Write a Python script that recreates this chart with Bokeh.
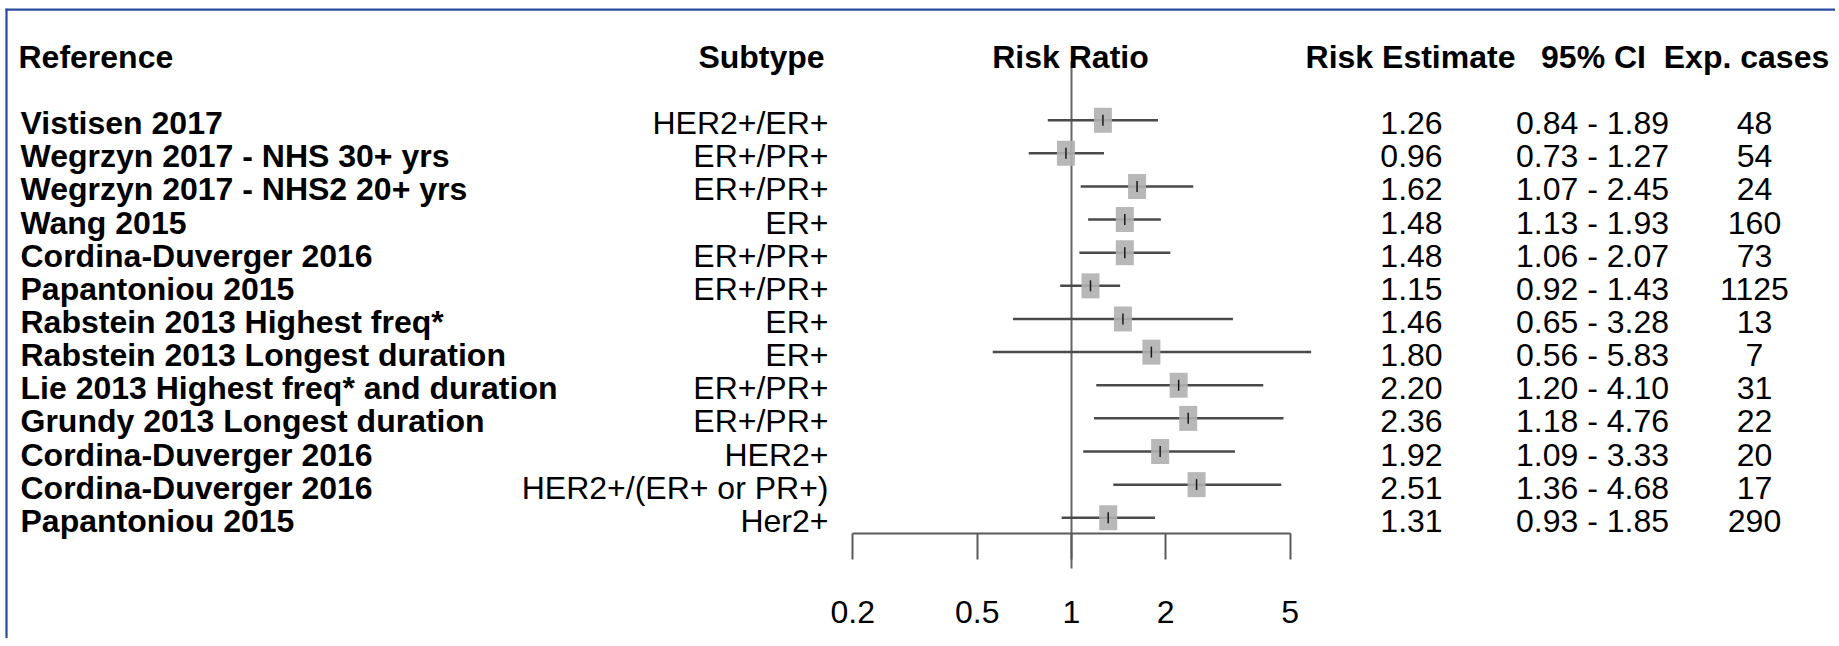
import math
from bokeh.plotting import figure
from bokeh.models import Range1d, FixedTicker, ColumnDataSource
from bokeh.core.properties import value
from bokeh.embed import file_html
from bokeh.resources import INLINE

# ---------------- data ----------------
references = [
    "Vistisen 2017",
    "Wegrzyn 2017 - NHS 30+ yrs",
    "Wegrzyn 2017 - NHS2 20+ yrs",
    "Wang 2015",
    "Cordina-Duverger 2016",
    "Papantoniou 2015",
    "Rabstein 2013 Highest freq*",
    "Rabstein 2013 Longest duration",
    "Lie 2013 Highest freq* and duration",
    "Grundy 2013 Longest duration",
    "Cordina-Duverger 2016",
    "Cordina-Duverger 2016",
    "Papantoniou 2015",
]
subtypes = [
    "HER2+/ER+", "ER+/PR+", "ER+/PR+", "ER+", "ER+/PR+", "ER+/PR+", "ER+",
    "ER+", "ER+/PR+", "ER+/PR+", "HER2+", "HER2+/(ER+ or PR+)", "Her2+",
]
estimates = [1.26, 0.96, 1.62, 1.48, 1.48, 1.15, 1.46, 1.80, 2.20, 2.36, 1.92, 2.51, 1.31]
ci_low = [0.84, 0.73, 1.07, 1.13, 1.06, 0.92, 0.65, 0.56, 1.20, 1.18, 1.09, 1.36, 0.93]
ci_high = [1.89, 1.27, 2.45, 1.93, 2.07, 1.43, 3.28, 5.83, 4.10, 4.76, 3.33, 4.68, 1.85]
exp_cases = [48, 54, 24, 160, 73, 1125, 13, 7, 31, 22, 20, 17, 290]
tick_values = [0.2, 0.5, 1, 2, 5]
tick_labels = ["0.2", "0.5", "1", "2", "5"]
null_value = 1
headers_left = ["Reference"]
headers_center = ["Subtype", "Risk Ratio", "Risk Estimate", "95% CI", "Exp. cases"]

# ---------------- layout helpers (pixel -> data) ----------------
W, H = 1835, 638
X_ONE = 1071.0      # px where RR = 1
PX_LN = 135.9       # px per natural-log unit
ROW0 = 119.7        # px of first row
ROW_STEP = 33.13    # px between rows


def xv(fx):
    return math.exp((fx - X_ONE) / PX_LN)


def yv(fy):
    return 1 + (fy - ROW0) / ROW_STEP


FONT = value("Liberation Sans")
FS = "32px"
BORDER = "#2a4aa0"

rows = list(range(1, len(references) + 1))
src = ColumnDataSource(dict(
    row=rows,
    ref=references,
    sub=subtypes,
    est=estimates,
    lo=ci_low,
    hi=ci_high,
    est_txt=[f"{v:.2f}" for v in estimates],
    ci_txt=[f"{a:.2f} - {b:.2f}" for a, b in zip(ci_low, ci_high)],
    n_txt=[str(v) for v in exp_cases],
))

p = figure(
    width=W, height=H, x_axis_type="log",
    x_range=Range1d(xv(0), xv(W)), y_range=Range1d(yv(H), yv(0)),
    output_backend="svg", toolbar_location=None, y_axis_location=None,
    min_border=0, min_border_left=0, min_border_right=0,
    min_border_top=0, min_border_bottom=0,
)
p.outline_line_color = None
p.grid.visible = False
p.background_fill_color = "white"
p.border_fill_color = "white"

# page frame (top and left blue border)
p.segment(x0=[xv(5), xv(6)], y0=[yv(9.2), yv(8.3)],
          x1=[xv(W), xv(6)], y1=[yv(9.2), yv(H)],
          line_color=BORDER, line_width=2.2)

# reference line at RR = 1
p.segment(x0=[null_value], y0=[yv(61)], x1=[null_value], y1=[yv(568)],
          line_color="#666666", line_width=2)

# confidence intervals
p.segment(x0="lo", y0="row", x1="hi", y1="row", source=src,
          line_color="#4a4a4a", line_width=2.5)
# boxes
p.rect(x="est", y="row", width=18, height=25, width_units="screen",
       height_units="screen", source=src, fill_color="#b0b0b0",
       fill_alpha=0.9, line_color=None)
# point estimate tick
p.scatter(x="est", y="row", marker="dash", angle=math.pi / 2, size=11,
          source=src, line_color="#1a1a1a", line_width=1.5)

# text columns
common = dict(source=src, text_font=FONT, text_font_size=FS,
              text_baseline="middle", y_offset=3, text_color="black")
p.text(x=xv(20), y="row", text="ref", text_font_style="bold",
       text_align="left", **common)
p.text(x=xv(828), y="row", text="sub", text_align="right", **common)
p.text(x=xv(1411), y="row", text="est_txt", text_align="center", **common)
p.text(x=xv(1592), y="row", text="ci_txt", text_align="center", **common)
p.text(x=xv(1754), y="row", text="n_txt", text_align="center", **common)

# headers
HY = yv(56.5)
p.text(x=[xv(18)], y=[HY], text=headers_left, text_font=FONT,
       text_font_style="bold", text_font_size=FS, text_baseline="middle",
       text_align="left", text_color="black")
p.text(x=[xv(761), xv(1070), xv(1410), xv(1593), xv(1746)],
       y=[HY] * len(headers_center), text=headers_center, text_font=FONT,
       text_font_style="bold", text_font_size=FS, text_baseline="middle",
       text_align="center", text_color="black")

# axis (log scale, drawn just under the last row)
ax = p.xaxis[0]
ax.fixed_location = yv(533.3)
ax.bounds = (tick_values[0], tick_values[-1])
ax.ticker = FixedTicker(ticks=tick_values)
ax.major_label_overrides = {v: l for v, l in zip(tick_values, tick_labels)}
ax.minor_tick_line_color = None
ax.major_tick_in = 0
ax.major_tick_out = 26
ax.axis_line_color = "#5a5a5a"
ax.axis_line_width = 2
ax.major_tick_line_color = "#5a5a5a"
ax.major_tick_line_width = 2
ax.major_label_text_font = "Liberation Sans"
ax.major_label_text_font_size = FS
ax.major_label_text_color = "black"
ax.major_label_standoff = 41

open("out.html", "w").write(file_html(p, INLINE))
